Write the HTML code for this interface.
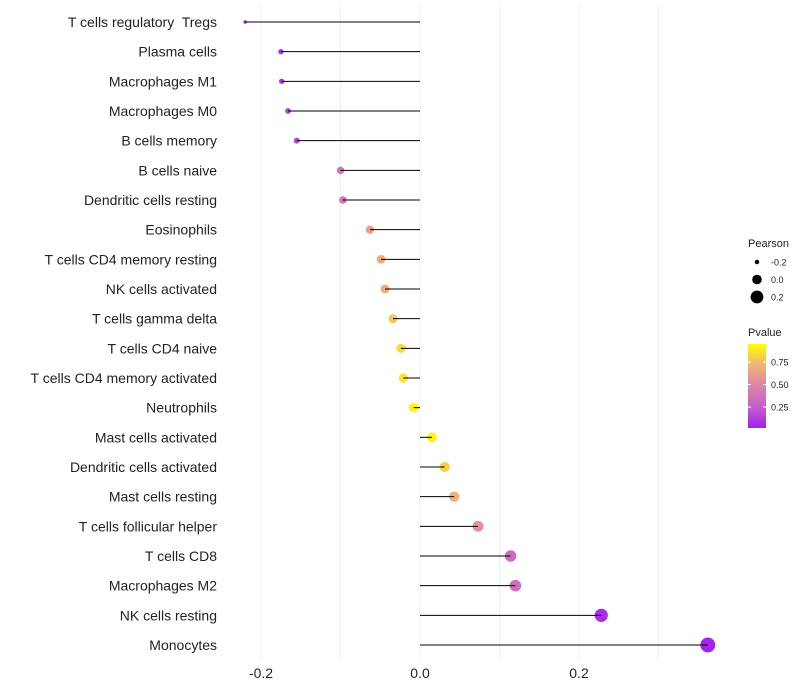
<!DOCTYPE html>
<html><head><meta charset="utf-8"><style>
html,body{margin:0;padding:0;background:#fff;}
svg{display:block;font-family:"Liberation Sans",sans-serif;}
text{white-space:pre;}
</style></head><body>
<svg id="chart" width="800" height="700" viewBox="0 0 800 700"></svg>
<script>
const categories=["T cells regulatory  Tregs","Plasma cells","Macrophages M1","Macrophages M0","B cells memory","B cells naive","Dendritic cells resting","Eosinophils","T cells CD4 memory resting","NK cells activated","T cells gamma delta","T cells CD4 naive","T cells CD4 memory activated","Neutrophils","Mast cells activated","Dendritic cells activated","Mast cells resting","T cells follicular helper","T cells CD8","Macrophages M2","NK cells resting","Monocytes"];
const pearson=[-0.22,-0.175,-0.174,-0.166,-0.155,-0.10,-0.097,-0.063,-0.049,-0.044,-0.034,-0.024,-0.021,-0.008,0.015,0.031,0.043,0.073,0.114,0.12,0.228,0.362];
const pvalue=[0.03,0.1,0.1,0.12,0.15,0.4,0.4,0.65,0.72,0.72,0.82,0.88,0.92,0.97,0.95,0.85,0.75,0.58,0.35,0.35,0.06,0.02];
const xTicks=[-0.2,0.0,0.2];
const xTickLabels=["-0.2","0.0","0.2"];
const gridVals=[-0.1,0.1,0.3];
const sizeLegend=[-0.2,0.0,0.2];
const colorTicks=[0.25,0.5,0.75];

const NS="http://www.w3.org/2000/svg";
const svg=document.getElementById('chart');
function mk(t,a,p){const e=document.createElementNS(NS,t);for(const k in a)e.setAttribute(k,a[k]);(p||svg).appendChild(e);return e;}
const xS=v=>420+v*795;
const yS=i=>22+i*(623/21);
const rS=v=>Math.sqrt(Math.max(2.5,23+90*v));
const stops=[[160,32,240],[196,96,205],[218,132,168],[240,178,120],[255,255,0]];
function col(p){let t=Math.max(0,Math.min(1,p))*4;let i=Math.min(3,Math.floor(t));let f=t-i;const a=stops[i],b=stops[i+1];return `rgb(${a.map((c,k)=>Math.round(c+(b[k]-c)*f)).join(',')})`;}
const pS=p=>428-(p-0.017)/(0.95-0.017)*84;

gridVals.concat(xTicks).forEach(v=>{
  const g=mk('line',{x1:xS(v),x2:xS(v),y1:5,y2:660,stroke:'#ebebeb','stroke-width':0.8});
  
  
});
xTicks.forEach((v,i)=>{
  const t=mk('text',{x:xS(v),y:678,'text-anchor':'middle','font-size':14,fill:'#222'});
  t.textContent=xTickLabels[i];
  
  
});
categories.forEach((c,i)=>{
  const y=yS(i);
  const l=mk('text',{x:217,y:y+5,'text-anchor':'end','font-size':14,fill:'#222'});
  l.textContent=c;
  
  
  const d=mk('circle',{cx:xS(pearson[i]),cy:y,r:rS(pearson[i]),fill:col(pvalue[i])});
  
  
  const s=mk('line',{x1:xS(0),x2:xS(pearson[i]),y1:y,y2:y,stroke:'#000','stroke-width':1});
  
  
});
const st=mk('text',{x:748,y:247,'font-size':11,fill:'#222'});st.textContent='Pearson';


sizeLegend.forEach((v,i)=>{
  const y=262+i*17.5;
  const c=mk('circle',{cx:757,cy:y,r:rS(v),fill:'#000'});
  
  
  const t=mk('text',{x:771,y:y+3.5,'font-size':9,fill:'#222'});t.textContent=v.toFixed(1);
  
  
});
const ct=mk('text',{x:748,y:336,'font-size':11,fill:'#222'});ct.textContent='Pvalue';


const defs=mk('defs',{});
const lg=mk('linearGradient',{id:'pg',x1:0,y1:1,x2:0,y2:0},defs);
stops.forEach((s,i)=>mk('stop',{offset:i/4,'stop-color':`rgb(${s.join(',')})`},lg));
const cb=mk('rect',{x:748,y:344,width:18,height:84,fill:'url(#pg)'});


colorTicks.forEach(v=>{
  const y=pS(v);
  mk('line',{x1:748,x2:751,y1:y,y2:y,stroke:'#fff'});mk('line',{x1:763,x2:766,y1:y,y2:y,stroke:'#fff'});
  const t=mk('text',{x:771,y:y+3.5,'font-size':9,fill:'#222'});t.textContent=v.toFixed(2);
  
  
});
</script>
</body></html>
